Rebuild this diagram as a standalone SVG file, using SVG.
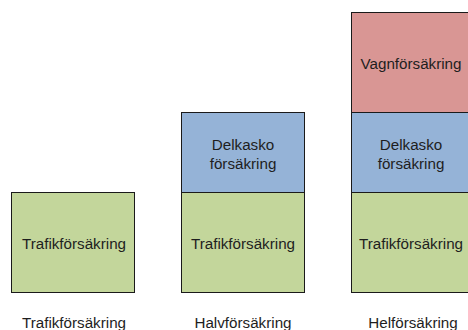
<svg xmlns="http://www.w3.org/2000/svg" width="468" height="330" viewBox="0 0 468 330">
<style>
.box{stroke:#1a1a1a;stroke-width:1}
.g{fill:#c3d69b}
.b{fill:#95b3d7}
.r{fill:#d99694}
text{font-family:"Liberation Sans",Arial,sans-serif;font-size:15.2px;fill:#1e1e1e;text-anchor:middle}
</style>
<rect width="468" height="330" fill="#ffffff"/>
<g id="col1">
<g id="trafik1"><rect class="box g" x="11.5" y="192.5" width="123" height="100"/><text x="74" y="248.5">Trafikförsäkring</text></g>
<text id="cap1" x="74" y="328">Trafikförsäkring</text>
</g>
<g id="col2">
<g id="delkasko2"><rect class="box b" x="181.5" y="112.5" width="123" height="80"/><text x="243" y="149.5">Delkasko</text><text x="243" y="168.5">försäkring</text></g>
<g id="trafik2"><rect class="box g" x="181.5" y="192.5" width="123" height="100"/><text x="243" y="248.5">Trafikförsäkring</text></g>
<text id="cap2" x="243" y="328">Halvförsäkring</text>
</g>
<g id="col3">
<g id="vagn3"><rect class="box r" x="351.5" y="12.5" width="123" height="100"/><text x="411" y="68.5">Vagnförsäkring</text></g>
<g id="delkasko3"><rect class="box b" x="351.5" y="112.5" width="123" height="80"/><text x="411" y="149.5">Delkasko</text><text x="411" y="168.5">försäkring</text></g>
<g id="trafik3"><rect class="box g" x="351.5" y="192.5" width="123" height="100"/><text x="411" y="248.5">Trafikförsäkring</text></g>
<text id="cap3" x="413" y="328">Helförsäkring</text>
</g>
<g id="connectors"/>
</svg>
